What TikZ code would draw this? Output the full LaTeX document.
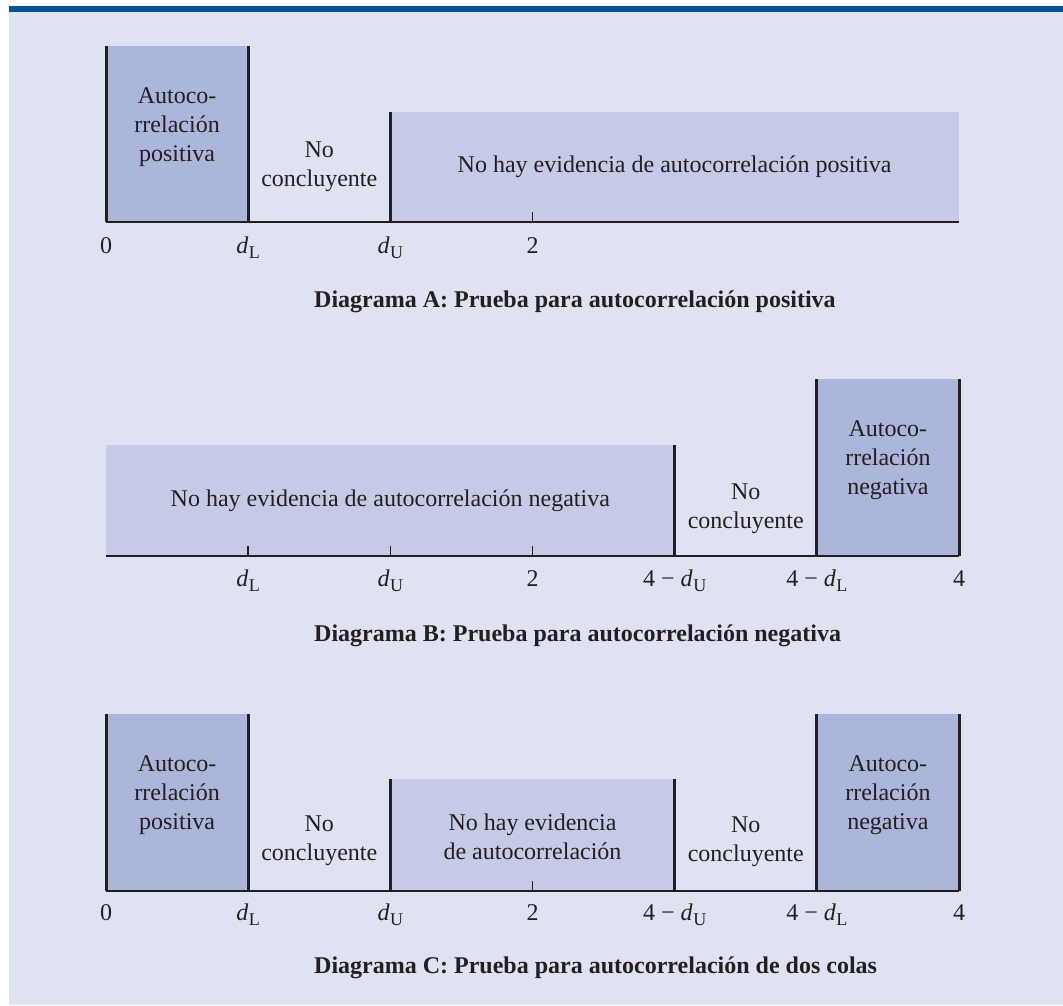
\documentclass[tikz,border=0pt]{standalone}
\usepackage{fontspec}
\setmainfont{Liberation Serif}
\definecolor{bgc}{RGB}{223,226,241}
\definecolor{darkbox}{RGB}{172,182,219}
\definecolor{lightbox}{RGB}{197,202,230}
\definecolor{barc}{RGB}{0,84,159}
\definecolor{ink}{RGB}{35,31,32}
\newcommand{\dsub}[1]{\textit{d}\kern0.5pt\raisebox{-5pt}{\fontsize{18}{18}\selectfont #1}}
\begin{document}
\begin{tikzpicture}[x=1pt,y=-1pt,
  every node/.style={inner sep=0pt, text=ink, font=\fontsize{24}{29}\selectfont},
  txt/.style={anchor=base, align=center},
  lab/.style={anchor=base},
  captext/.style={anchor=base west, font=\bfseries\fontsize{24}{29}\selectfont},
  wall/.style={draw=ink, line width=3pt},
  axisline/.style={draw=ink, line width=2pt},
  tickmark/.style={draw=ink, line width=1.5pt}]
\useasboundingbox (0,0) rectangle (1063,1005);
\fill[bgc] (9,12) rectangle (1063,1005);
\fill[barc] (9,6) rectangle (1063,12);

% ---------------- Diagram A ----------------
\fill[darkbox] (106,46) rectangle (248.2,222);
\fill[lightbox] (390.3,112) rectangle (959,222);
\draw[wall] (106,46) -- (106,222);
\draw[wall] (248.2,46) -- (248.2,222);
\draw[wall] (390.3,112) -- (390.3,222);
\draw[tickmark] (532.5,212) -- (532.5,222);
\draw[axisline] (106,222) -- (959,222);
\node[txt] (a1) at (177.1,161) {Autoco-\\rrelación\\positiva};
\node[txt] (a2) at (319.3,186) {No\\concluyente};
\node[txt] (a3) at (674.6,172) {No hay evidencia de autocorrelación positiva};
\node[lab] (a0l) at (106,253) {0};
\node[lab] (adl) at (248.2,253) {\dsub{L}};
\node[lab] (adu) at (390.3,253) {\dsub{U}};
\node[lab] (a2l) at (532.5,253) {2};
\node[captext] (acap) at (314,307) {Diagrama A: Prueba para autocorrelación positiva};

% ---------------- Diagram B ----------------
\fill[lightbox] (106,445) rectangle (674.7,556);
\fill[darkbox] (816.8,379) rectangle (959,556);
\draw[wall] (674.7,445) -- (674.7,556);
\draw[wall] (816.8,379) -- (816.8,556);
\draw[wall] (959,379) -- (959,556);
\draw[tickmark] (248.2,546) -- (248.2,556);
\draw[tickmark] (390.3,546) -- (390.3,556);
\draw[tickmark] (532.5,546) -- (532.5,556);
\draw[axisline] (106,556) -- (959,556);
\node[txt] (b1) at (390.3,506) {No hay evidencia de autocorrelación negativa};
\node[txt] (b2) at (745.8,528) {No\\concluyente};
\node[txt] (b3) at (887.9,494) {Autoco-\\rrelación\\negativa};
\node[lab] (bdl) at (248.2,586) {\dsub{L}};
\node[lab] (bdu) at (390.3,586) {\dsub{U}};
\node[lab] (b2l) at (532.5,586) {2};
\node[lab] (b4u) at (674.7,586) {4 − \dsub{U}};
\node[lab] (b4l) at (816.8,586) {4 − \dsub{L}};
\node[lab] (b4) at (959,586) {4};
\node[captext] (bcap) at (314,641) {Diagrama B: Prueba para autocorrelación negativa};

% ---------------- Diagram C ----------------
\fill[darkbox] (106,714) rectangle (248.2,891);
\fill[lightbox] (390.3,779) rectangle (674.7,891);
\fill[darkbox] (816.8,714) rectangle (959,891);
\draw[wall] (106,714) -- (106,891);
\draw[wall] (248.2,714) -- (248.2,891);
\draw[wall] (390.3,779) -- (390.3,891);
\draw[wall] (674.7,779) -- (674.7,891);
\draw[wall] (816.8,714) -- (816.8,891);
\draw[wall] (959,714) -- (959,891);
\draw[tickmark] (532.5,881) -- (532.5,891);
\draw[axisline] (106,891) -- (959,891);
\node[txt] (c1) at (177.1,829) {Autoco-\\rrelación\\positiva};
\node[txt] (c2) at (319.3,860) {No\\concluyente};
\node[txt] (c3) at (532.5,859) {No hay evidencia\\de autocorrelación};
\node[txt] (c4) at (745.8,861) {No\\concluyente};
\node[txt] (c5) at (887.9,829) {Autoco-\\rrelación\\negativa};
\node[lab] (c0l) at (106,920) {0};
\node[lab] (cdl) at (248.2,920) {\dsub{L}};
\node[lab] (cdu) at (390.3,920) {\dsub{U}};
\node[lab] (c2l) at (532.5,920) {2};
\node[lab] (c4u) at (674.7,920) {4 − \dsub{U}};
\node[lab] (c4l) at (816.8,920) {4 − \dsub{L}};
\node[lab] (c4) at (959,920) {4};
\node[captext] (ccap) at (314,973) {Diagrama C: Prueba para autocorrelación de dos colas};
\end{tikzpicture}
\end{document}
